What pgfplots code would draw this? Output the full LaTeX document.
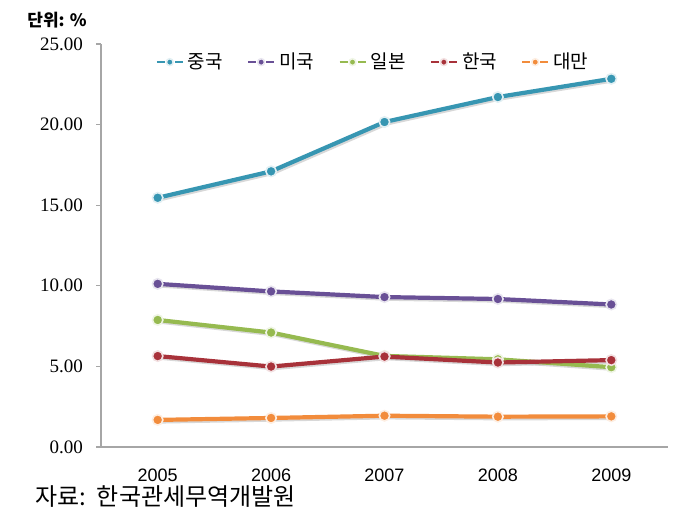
\documentclass[border=0pt]{standalone}
\usepackage{fontspec}
\setmainfont{Liberation Serif}
\newfontfamily\kr{Noto Sans CJK KR}
\newfontfamily\sansf{Liberation Sans}
\usepackage{pgfplots}
\pgfplotsset{compat=1.18}
\definecolor{cChina}{RGB}{55,150,178}
\definecolor{cUS}{RGB}{105,80,150}
\definecolor{cJapan}{RGB}{150,186,80}
\definecolor{cKorea}{RGB}{168,50,58}
\definecolor{cTaiwan}{RGB}{242,140,60}
\begin{document}
\begin{tikzpicture}
\useasboundingbox (0,0) rectangle (345.5pt,261.5pt);
\begin{axis}[
  at={(50.5pt,38pt)}, anchor=south west,
  scale only axis, width=283.5pt, height=201.5pt,
  xmin=-0.5, xmax=4.5, ymin=0, ymax=25,
  axis x line*=bottom, axis y line*=left,
  axis line style={black!35, line width=0.6pt},
  tick style={black!35, line width=0.6pt},
  tick align=outside, major tick length=2.5pt,
  xtick={0,1,2,3,4}, xticklabels={2005,2006,2007,2008,2009},
  x tick style={draw=none},
  extra x ticks={-0.5,0.5,1.5,2.5,3.5,4.5}, extra x tick labels={},
  extra x tick style={tick style={draw=black!35}, major tick length=3pt},
  xticklabel style={font=\sansf\fontsize{9}{10}\selectfont, yshift=-5pt},
  ytick={0,5,10,15,20,25},
  yticklabel style={font=\fontsize{9.5}{10}\selectfont, xshift=-3pt,
    /pgf/number format/.cd, fixed, fixed zerofill, precision=2, assume math mode=true},
  every axis plot/.append style={line width=2.1pt, mark=*, mark size=2.6pt},
  legend columns=5,
  legend style={at={(0.085,0.955)}, anchor=west, draw=none, fill=none,
    font=\kr\fontsize{9.5}{10}\selectfont,
    /tikz/every even column/.append style={column sep=10pt}},
  legend image code/.code={%
    \draw[#1,line width=1.2pt] (0pt,0pt)--(4pt,0pt) (9pt,0pt)--(13pt,0pt);
    \draw[#1,mark size=1.7pt] plot coordinates {(6.5pt,0pt)};},
]
% soft shadows
\addplot[forget plot, no marks, black!30, opacity=0.5, line width=2.1pt, xshift=0.8pt, yshift=-0.8pt]
  coordinates {(0,15.46) (1,17.10) (2,20.16) (3,21.71) (4,22.84)};
\addplot[forget plot, no marks, black!30, opacity=0.5, line width=2.1pt, xshift=0.8pt, yshift=-0.8pt]
  coordinates {(0,10.12) (1,9.65) (2,9.30) (3,9.18) (4,8.84)};
\addplot[forget plot, no marks, black!30, opacity=0.5, line width=2.1pt, xshift=0.8pt, yshift=-0.8pt]
  coordinates {(0,7.88) (1,7.10) (2,5.65) (3,5.44) (4,4.95)};
\addplot[forget plot, no marks, black!30, opacity=0.5, line width=2.1pt, xshift=0.8pt, yshift=-0.8pt]
  coordinates {(0,5.64) (1,4.99) (2,5.61) (3,5.24) (4,5.39)};
\addplot[forget plot, no marks, black!30, opacity=0.5, line width=2.1pt, xshift=0.8pt, yshift=-0.8pt]
  coordinates {(0,1.68) (1,1.80) (2,1.94) (3,1.88) (4,1.90)};
\addplot[cChina, mark options={fill=cChina, draw=white!85!cChina, line width=0.8pt}]
  coordinates {(0,15.46) (1,17.10) (2,20.16) (3,21.71) (4,22.84)};
\addlegendentry{중국}
\addplot[cUS, mark options={fill=cUS, draw=white!85!cUS, line width=0.8pt}]
  coordinates {(0,10.12) (1,9.65) (2,9.30) (3,9.18) (4,8.84)};
\addlegendentry{미국}
\addplot[cJapan, mark options={fill=cJapan, draw=white!85!cJapan, line width=0.8pt}]
  coordinates {(0,7.88) (1,7.10) (2,5.65) (3,5.44) (4,4.95)};
\addlegendentry{일본}
\addplot[cKorea, mark options={fill=cKorea, draw=white!85!cKorea, line width=0.8pt}]
  coordinates {(0,5.64) (1,4.99) (2,5.61) (3,5.24) (4,5.39)};
\addlegendentry{한국}
\addplot[cTaiwan, mark options={fill=cTaiwan, draw=white!85!cTaiwan, line width=0.8pt}]
  coordinates {(0,1.68) (1,1.80) (2,1.94) (3,1.88) (4,1.90)};
\addlegendentry{대만}
\end{axis}
\node[anchor=east, inner sep=0pt, font=\kr\bfseries\fontsize{8.5}{9}\selectfont] at (43.5pt,251.5pt) {단위: \%};
\node[anchor=west, inner sep=0pt, font=\kr\fontsize{12}{13}\selectfont] at (17.5pt,13pt) {자료:\ \ 한국관세무역개발원};
\end{tikzpicture}
\end{document}
